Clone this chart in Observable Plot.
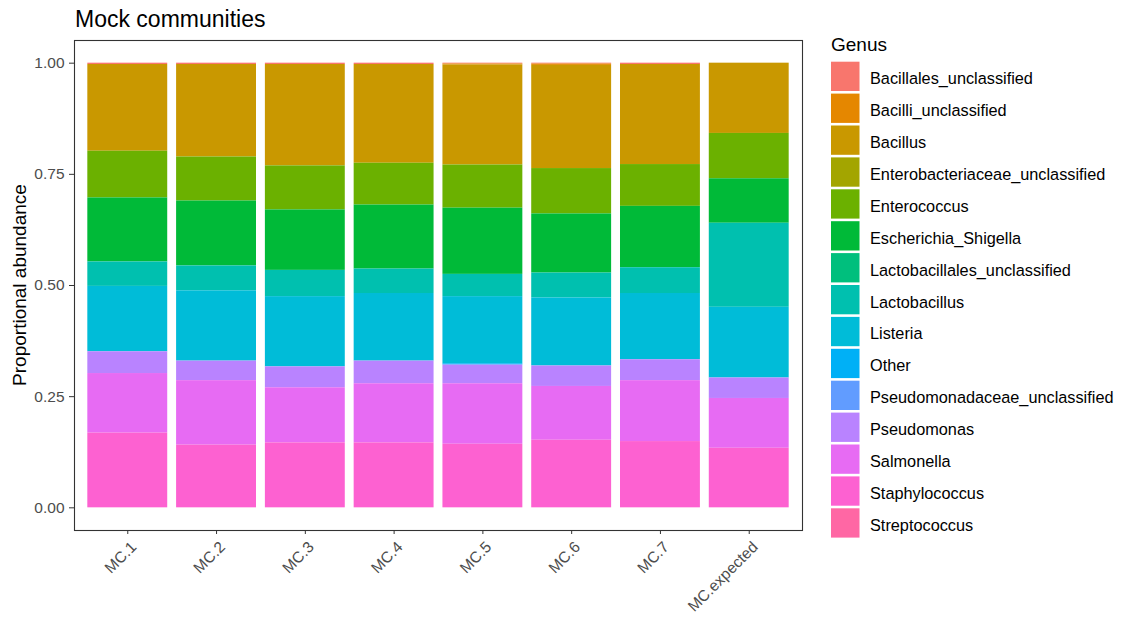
<!DOCTYPE html>
<html><head><meta charset="utf-8">
<script src="https://cdn.jsdelivr.net/npm/d3@7"></script>
<script src="https://cdn.jsdelivr.net/npm/@observablehq/plot@0.6"></script>
<style>
body{margin:0;background:#fff;font-family:"Liberation Sans",Arial,sans-serif;}
#wrap{position:relative;width:1126px;height:617px;overflow:hidden;background:#fff;}
#chart{position:absolute;left:0;top:0;}
#overlay{position:absolute;left:0;top:0;pointer-events:none;}
#chart svg g[aria-label="y-axis tick label"] text, #chart svg g[aria-label="x-axis tick label"] text{fill:#4d4d4d;}
</style>
</head><body>
<div id="wrap"><div id="chart"></div><svg id="overlay" width="1126" height="617"></svg></div>
<script>
const samples = ["MC.1","MC.2","MC.3","MC.4","MC.5","MC.6","MC.7","MC.expected"];
const genera = ["Bacillales_unclassified","Bacilli_unclassified","Bacillus","Enterobacteriaceae_unclassified","Enterococcus","Escherichia_Shigella","Lactobacillales_unclassified","Lactobacillus","Listeria","Other","Pseudomonadaceae_unclassified","Pseudomonas","Salmonella","Staphylococcus","Streptococcus"];
const colors = ["#F8766D","#E58700","#C99800","#A3A500","#6BB100","#00BA38","#00BF7D","#00C0AF","#00BCD8","#00B0F6","#619CFF","#B983FF","#E76BF3","#FD61D1","#FF67A4"];
const yTicks = [0, 0.25, 0.5, 0.75, 1];

// proportional abundance per genus, in sample order
const bacillalesUnclassified = [0.003,0.003,0.003,0.003,0.002,0.002,0.003,0];
const bacilliUnclassified = [0,0,0,0,0.002,0.003,0,0];
const bacillus = [0.195,0.208,0.228,0.222,0.225,0.232,0.225,0.158];
const enterobacteriaceaeUnclassified = [0,0,0,0,0,0,0,0];
const enterococcus = [0.105,0.099,0.099,0.094,0.097,0.102,0.094,0.102];
const escherichiaShigella = [0.144,0.146,0.136,0.144,0.149,0.133,0.138,0.100];
const lactobacillalesUnclassified = [0,0,0,0,0,0,0,0];
const lactobacillus = [0.055,0.056,0.059,0.055,0.050,0.056,0.058,0.189];
const listeria = [0.147,0.158,0.158,0.152,0.151,0.153,0.149,0.159];
const other = [0,0,0,0,0.003,0,0,0];
const pseudomonadaceaeUnclassified = [0,0,0,0,0,0,0,0];
const pseudomonas = [0.049,0.044,0.047,0.051,0.042,0.046,0.047,0.046];
const salmonella = [0.134,0.145,0.124,0.133,0.136,0.121,0.137,0.112];
const staphylococcus = [0.168,0.141,0.146,0.146,0.143,0.152,0.149,0.134];
const streptococcus = [0,0,0,0,0,0,0,0];

const series = [bacillalesUnclassified,bacilliUnclassified,bacillus,enterobacteriaceaeUnclassified,enterococcus,escherichiaShigella,lactobacillalesUnclassified,lactobacillus,listeria,other,pseudomonadaceaeUnclassified,pseudomonas,salmonella,staphylococcus,streptococcus];

const rows = [];
genera.forEach((g, gi) => samples.forEach((s, si) => {
  const v = series[gi][si];
  if (v > 0) rows.push({sample: s, genus: g, value: v});
}));

const font = '"Liberation Sans", Arial, sans-serif';

const chart = Plot.plot({
  width: 820, height: 617,
  marginLeft: 74, marginRight: 18, marginTop: 40, marginBottom: 87,
  style: {fontFamily: font, background: "transparent", color: "#333"},
  x: {domain: samples, paddingInner: 0.1, paddingOuter: 0.15, round: false, label: null},
  y: {domain: [-0.051, 1.051], label: null},
  color: {domain: genera, range: colors},
  marks: [
    Plot.barY(rows, {x: "sample", y: "value", fill: "genus", order: genera.slice().reverse()}),
    Plot.frame({stroke: "#333", strokeWidth: 1.1}),
    Plot.axisY({ticks: yTicks, tickFormat: d => d.toFixed(2), tickSize: 5, tickPadding: 5, fontSize: 15.5, label: null, stroke: "#333"}),
    Plot.axisX({tickRotate: -45, tickSize: 4, tickPadding: 3, fontSize: 15.5, label: null, stroke: "#333"})
  ]
});
document.getElementById("chart").appendChild(chart);
// nudge rotated x labels so their top-right corner sits at the tick (ggplot hjust=1, vjust=1)
d3.select(chart).selectAll('g[aria-label="x-axis tick label"]').each(function() {
  const t = this.getAttribute("transform") || "";
  this.setAttribute("transform", "translate(6,7) " + t);
});

// overlay: title, y label, legend
const ov = d3.select("#overlay").style("font-family", font);
ov.append("text").attr("x", 75).attr("y", 27).attr("font-size", 23).attr("fill", "#000").text("Mock communities");
ov.append("text").attr("transform", "translate(26,285) rotate(-90)").attr("text-anchor", "middle")
  .attr("font-size", 19).attr("fill", "#000").text("Proportional abundance");
ov.append("text").attr("x", 831).attr("y", 50.5).attr("font-size", 19).attr("fill", "#000").text("Genus");
const leg = ov.selectAll("g.key").data(genera).join("g").attr("class", "key")
  .attr("transform", (d, i) => `translate(831,${61.7 + i * 31.9})`);
leg.append("rect").attr("width", 28.5).attr("height", 29.3).attr("fill", (d, i) => colors[i]);
leg.append("text").attr("x", 39).attr("y", 22.5).attr("font-size", 16.3).attr("fill", "#000").text(d => d);
</script>
</body></html>
